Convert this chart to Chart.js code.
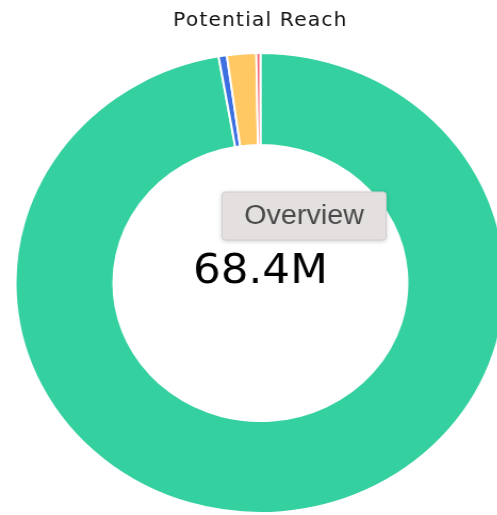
<!DOCTYPE html>
<html>
<head>
<meta charset="utf-8">
<script src="https://cdn.jsdelivr.net/npm/chart.js@4"></script>
<style>
  html, body { margin: 0; padding: 0; background: #fff; overflow: hidden; }
  body { width: 497px; height: 515px; }
  #wrap { width: 497px; height: 515px; overflow: hidden; position: relative; }
  /* the reference picture is a little wider than tall, so stretch the canvas */
  #reach { display: block; transform: scaleX(1.065); transform-origin: 0 0; }
</style>
</head>
<body>
<div id="wrap"><canvas id="reach" width="489" height="515"></canvas></div>
<script>
// datos del gráfico (millones)
const channels = ['Twitter', 'Facebook', 'Instagram', 'News'];
const reach = [66.53, 0.37, 1.32, 0.18];
const colors = ['#34d0a0', '#3c6fe0', '#ffc862', '#f0606b'];
const chartTitle = 'Potential Reach';
const totalLabel = '68.4M';
const badgeLabel = 'Overview';

// Título, total y etiqueta "Overview" dibujados a mano
const overlay = {
    id: 'overlay',
    afterDraw(chart) {
        const ctx = chart.ctx;
        const meta = chart.getDatasetMeta(0).data[0];
        const cx = meta.x;

        ctx.save();
        ctx.textAlign = 'center';
        ctx.textBaseline = 'alphabetic';

        // título
        ctx.fillStyle = '#111';
        ctx.font = '19px "DejaVu Sans"';
        ctx.letterSpacing = '1.1px';
        ctx.fillText(chartTitle, cx, 26);
        ctx.letterSpacing = '0px';

        // total en el centro
        ctx.fillStyle = '#000';
        ctx.font = '41px "DejaVu Sans"';
        ctx.fillText(totalLabel, cx, 283);

        // cajita tipo tooltip
        const bx = 208.5, by = 192, bw = 154, bh = 48;
        ctx.shadowColor = 'rgba(0,0,0,0.22)';
        ctx.shadowBlur = 5;
        ctx.shadowOffsetY = 1;
        ctx.fillStyle = '#e3e0df';
        ctx.beginPath();
        ctx.roundRect(bx, by, bw, bh, 3);
        ctx.fill();
        ctx.shadowColor = 'transparent';
        ctx.strokeStyle = '#d2cfce';
        ctx.lineWidth = 1;
        ctx.stroke();

        ctx.fillStyle = '#4a4a4a';
        ctx.font = '27px "Liberation Sans"';
        ctx.fillText(badgeLabel, bx + bw / 2, 224);
        ctx.restore();
    }
};

new Chart(document.getElementById('reach').getContext('2d'), {
    type: 'doughnut',
    data: {
        labels: channels,
        datasets: [{
            data: reach,
            backgroundColor: colors,
            borderColor: '#fff',
            borderWidth: 2
        }]
    },
    options: {
        responsive: false,
        animation: false,
        cutout: '60%',
        layout: { padding: { top: 52, bottom: 1, left: 0, right: 0 } },
        plugins: {
            legend: { display: false },
            tooltip: { enabled: false },
            title: { display: false }
        }
    },
    plugins: [overlay]
});
</script>
</body>
</html>
